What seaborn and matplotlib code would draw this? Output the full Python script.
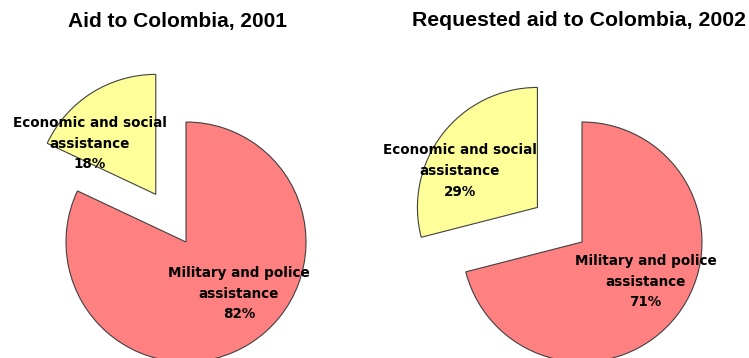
import matplotlib
matplotlib.use("Agg")
import matplotlib.pyplot as plt
import seaborn as sns
import numpy as np

sns.set_style("white")
plt.rcParams['font.family'] = ['DejaVu Sans']
plt.rcParams['text.color'] = 'black'

titles = ["Aid to Colombia, 2001", "Requested aid to Colombia, 2002"]
categories = ["Economic and social\nassistance", "Military and police\nassistance"]
values_2001 = [18, 82]
values_2002 = [29, 71]
colors = ["#FFFF99", "#FF8080"]

W, H = 749, 358
fig = plt.figure(figsize=(W / 100, H / 100), dpi=100)
R = 120.0  # pixels per data unit

def make_axes(x0, width, cx, cy_from_top):
    ax = fig.add_axes([x0 / W, 0, width / W, 1])
    ax.axis("off")
    return ax

panels = [
    dict(vals=values_2001, x0=0, width=374, cx=186, cy=242,
         label_pos=[(-0.80, 0.82), (0.44, -0.43)]),
    dict(vals=values_2002, x0=375, width=374, cx=582, cy=242,
         label_pos=[(-1.02, 0.59), (0.53, -0.33)]),
]

for i, p in enumerate(panels):
    ax = make_axes(p["x0"], p["width"], p["cx"], p["cy"])
    wedges, _ = ax.pie(p["vals"], colors=colors, startangle=90,
                       counterclock=True, explode=[0.47, 0],
                       wedgeprops=dict(edgecolor="#404040", linewidth=0.8),
                       radius=1.0, frame=False)
    ax.set_xlim(-(p["cx"] - p["x0"]) / R, (p["x0"] + p["width"] - p["cx"]) / R)
    ax.set_ylim(-(H - p["cy"]) / R, p["cy"] / R)
    ax.set_aspect("auto")
    for (lx, ly), cat, v in zip(p["label_pos"], categories, p["vals"]):
        ax.text(lx, ly, f"{cat}\n{v}%", ha="center", va="center",
                fontsize=9.75, fontweight="bold", linespacing=1.62, color="black")

fig.text(177 / W, 1 - 21 / H, titles[0], ha="center", va="center",
         fontsize=15, fontweight="bold", family=["Liberation Sans"], color="black")
fig.text(412 / W, 1 - 21 / H, titles[1], ha="left", va="center",
         fontsize=15.3, fontweight="bold", family=["Liberation Sans"], color="black")

fig.savefig("out.png", dpi=100)
